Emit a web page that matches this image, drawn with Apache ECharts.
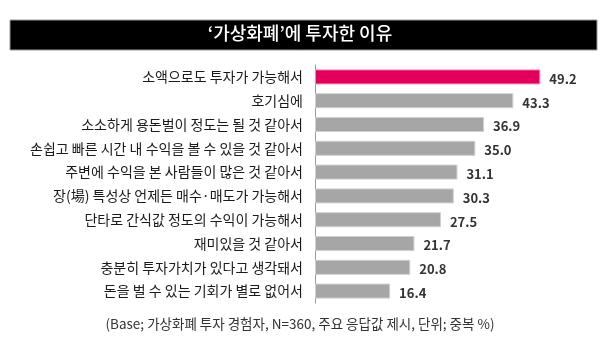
<!DOCTYPE html>
<html>
<head>
<meta charset="utf-8">
<script src="https://cdn.jsdelivr.net/npm/echarts@6/dist/echarts.min.js"></script>
<style>
  html, body { margin: 0; padding: 0; background: #fff; }
  #chart { width: 600px; height: 347px; }
</style>
</head>
<body>
<div id="chart"></div>
<script>
// Reasons for investing in virtual currency (multiple responses, %)
const categories = [
  '소액으로도 투자가 가능해서',
  '호기심에',
  '소소하게 용돈벌이 정도는 될 것 같아서',
  '손쉽고 빠른 시간 내 수익을 볼 수 있을 것 같아서',
  '주변에 수익을 본 사람들이 많은 것 같아서',
  '장(場) 특성상 언제든 매수·매도가 가능해서',
  '단타로 간식값 정도의 수익이 가능해서',
  '재미있을 것 같아서',
  '충분히 투자가치가 있다고 생각돼서',
  '돈을 벌 수 있는 기회가 별로 없어서'
];
const values = [49.2, 43.3, 36.9, 35.0, 31.1, 30.3, 27.5, 21.7, 20.8, 16.4];
const titleText = '‘가상화폐’에 투자한 이유';
const noteText = '(Base; 가상화폐 투자 경험자, N=360, 주요 응답값 제시, 단위; 중복 %)';

const font = '"Noto Sans CJK KR", "Noto Sans", sans-serif';
const chart = echarts.init(document.getElementById('chart'), null, { renderer: 'canvas' });

chart.setOption({
  backgroundColor: '#fff',
  animation: false,
  graphic: [
    {
      type: 'rect',
      shape: { x: 10, y: 20, width: 587, height: 30 },
      style: { fill: '#000', stroke: '#9a9a9a', lineWidth: 1 },
      z: 0
    },
    {
      type: 'text',
      left: 'center',
      top: 24,
      style: { text: titleText, fill: '#fff', font: '500 18px ' + font },
      z: 1
    },
    {
      type: 'text',
      left: 'center',
      top: 317,
      style: { text: noteText, fill: '#333', font: '13.5px ' + font },
      z: 1
    }
  ],
  grid: { left: 315, right: 56, top: 65, bottom: 44 },
  xAxis: {
    type: 'value',
    min: 0,
    max: 50,
    show: false
  },
  yAxis: {
    type: 'category',
    data: categories,
    inverse: true,
    axisLine: { show: true, lineStyle: { color: '#9a9a9a', width: 1 } },
    axisTick: { show: false },
    axisLabel: {
      color: '#1a1a1a',
      fontSize: 14,
      fontFamily: font,
      margin: 12
    }
  },
  series: [{
    type: 'bar',
    data: values.map((v, i) => ({
      value: v,
      itemStyle: i === 0
        ? { color: '#e4005a', borderColor: '#f08cb0', borderWidth: 1 }
        : { color: '#a6a6a6', borderColor: '#cfcfcf', borderWidth: 1 }
    })),
    barWidth: 15,
    label: {
      show: true,
      position: 'right',
      distance: 9,
      offset: [0, 2],
      color: '#333',
      fontSize: 13,
      fontWeight: 'bold',
      fontFamily: font,
      formatter: p => p.value.toFixed(1)
    }
  }]
});
</script>
</body>
</html>
